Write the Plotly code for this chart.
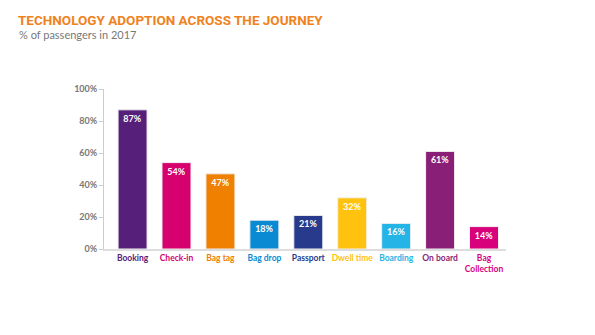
import plotly.graph_objects as go

categories = ["Booking", "Check-in", "Bag tag", "Bag drop", "Passport",
              "Dwell time", "Boarding", "On board", "Bag<br>Collection"]
values = [87, 54, 47, 18, 21, 32, 16, 61, 14]
colors = ["#56207a", "#d6006f", "#f08000", "#0a8ad2", "#273a8c",
          "#ffc20e", "#25b4e6", "#8a1f77", "#d8007b"]
y_ticks = [0, 20, 40, 60, 80, 100]
y_ticklabels = [f"{v}%" for v in y_ticks]

W, H = 595, 335
L, R, T, B = 104, 89, 89, 86
FONT = "Lato"

x_idx = list(range(len(categories)))
ticktext = [f'<b><span style="color:{c}">{lab}</span></b>' for lab, c in zip(categories, colors)]

fig = go.Figure()
fig.add_trace(go.Bar(
    x=x_idx, y=values,
    marker=dict(color=colors, line=dict(color="#f0f0f0", width=1)),
    text=[f"<b>{v}%</b>" for v in values],
    textposition="inside", insidetextanchor="end", textangle=0,
    constraintext="none",
    textfont=dict(color="white", size=9, family=FONT),
    width=0.66, hoverinfo="skip",
))

fig.update_layout(
    width=W, height=H,
    margin=dict(l=L, r=R, t=T, b=B),
    paper_bgcolor="white", plot_bgcolor="white",
    showlegend=False,
    font=dict(family=FONT),
    title=dict(text="<b>TECHNOLOGY ADOPTION ACROSS THE JOURNEY</b>",
               xref="container", yref="container",
               x=18 / W, y=1 - 20.5 / H, xanchor="left", yanchor="middle",
               font=dict(size=13.5, color="#f0821e", family="Roboto")),
    annotations=[dict(text="% of passengers in 2017", xref="paper", yref="paper",
                      x=(17 - L) / (W - L - R), y=(H - B - 34.5) / (H - T - B),
                      xanchor="left", yanchor="middle", showarrow=False,
                      font=dict(size=11, color="#777777", family=FONT))],
    xaxis=dict(range=[-0.65, 8.5], tickvals=x_idx, ticktext=ticktext,
               showgrid=False, zeroline=False, showline=True,
               linecolor="#dddddd", linewidth=2, ticks="",
               tickfont=dict(size=8.5, family=FONT), fixedrange=True),
    yaxis=dict(range=[0, 100], tickvals=y_ticks, ticktext=[f"<b>{t}</b>" for t in y_ticklabels],
               showgrid=False, zeroline=False, showline=True,
               linecolor="#cccccc", linewidth=1, ticks="outside", ticklen=4,
               tickcolor="#cccccc", tickfont=dict(size=9, color="#777777", family=FONT),
               fixedrange=True),
)

fig.write_html("out.html")
